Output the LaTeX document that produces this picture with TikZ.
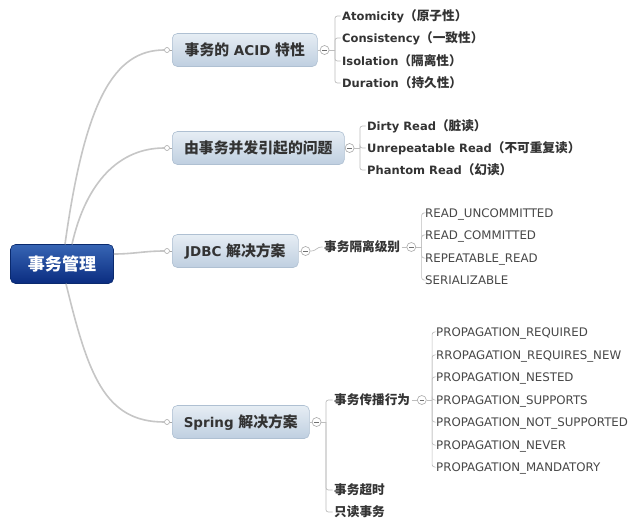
\documentclass[tikz,border=0pt]{standalone}
\usepackage{fontspec}
\setmainfont{DejaVu Sans}
\newfontfamily\cjk[Scale=1.1]{Noto Sans CJK SC}
\definecolor{txt}{HTML}{333333}
\definecolor{leafc}{HTML}{474747}
\definecolor{boxtop}{HTML}{E6EDF4}
\definecolor{boxbot}{HTML}{BFCFE0}
\definecolor{boxb}{HTML}{AFC0D2}
\definecolor{roottop}{HTML}{3765B4}
\definecolor{rootbot}{HTML}{0A2C80}
\definecolor{rootb}{HTML}{0A2A6E}
\definecolor{linec}{HTML}{C6C6C6}
\definecolor{brc}{HTML}{BDBDBD}
\definecolor{colb}{HTML}{A8A8A8}
\definecolor{colm}{HTML}{707070}
\tikzset{
  rootbox/.style={rounded corners=5pt, draw=rootb, line width=0.6pt, top color=roottop, bottom color=rootbot,
    minimum width=103pt, minimum height=39pt, text=white, font=\cjk\bfseries\fontsize{15.5}{18}\selectfont},
  branchbox/.style={rounded corners=5pt, draw=boxb, line width=0.6pt, top color=boxtop, bottom color=boxbot,
    minimum height=33pt, anchor=west, text=txt, font=\bfseries\fontsize{13.5}{16}\selectfont},
  leafb/.style={anchor=west, inner sep=1.5pt, text height=8.5pt, text depth=0pt, text=txt, font=\bfseries\fontsize{11.5}{13}\selectfont},
  leafr/.style={anchor=west, inner sep=1.5pt, text height=8.5pt, text depth=0pt, text=leafc, font=\fontsize{11.8}{13}\selectfont},
  collapse/.style={circle, draw=colb, fill=white, minimum size=9pt, inner sep=0pt, line width=0.6pt,
    path picture={\draw[line width=0.8pt, colm] ([xshift=-2.2pt]path picture bounding box.center) -- ([xshift=2.2pt]path picture bounding box.center);}},
  dot/.style={circle, draw=colb, fill=white, minimum size=5pt, inner sep=0pt, line width=0.6pt},
  trunk/.style={draw=linec, line width=1.6pt},
  bracket/.style={draw=brc, line width=0.7pt, rounded corners=2.5pt}
}
\begin{document}
\begin{tikzpicture}[x=1pt,y=-1pt]
\fill[white] (0,0) rectangle (640,528);
\useasboundingbox (0,0) rectangle (640,528);

% root and main branches
\node[rootbox] (root) at (62,264) {事务管理};
\node[branchbox, minimum width=145pt] (acid) at (172,50) {{\cjk 事务的} ACID {\cjk 特性}};
\node[branchbox, minimum width=172pt] (prob) at (172,148) {\cjk 由事务并发引起的问题};
\node[branchbox, minimum width=126pt] (jdbc) at (172,251) {JDBC {\cjk 解决方案}};
\node[branchbox, minimum width=137pt] (spring) at (172,422) {Spring {\cjk 解决方案}};

\node[dot] (d1) at ([xshift=-5pt]acid.west) {};
\node[dot] (d2) at ([xshift=-5pt]prob.west) {};
\node[dot] (d3) at ([xshift=-5pt]jdbc.west) {};
\node[dot] (d4) at ([xshift=-5pt]spring.west) {};
\draw[draw=colb, line width=0.6pt] (d1) -- (acid.west) (d2) -- (prob.west) (d3) -- (jdbc.west) (d4) -- (spring.west);

\draw[trunk] ([xshift=3pt]root.north) .. controls +(20,-144) and +(-50,0) .. (d1.west);
\draw[trunk] ([xshift=10pt]root.north) .. controls +(14,-62) and +(-45,0) .. (d2.west);
\draw[trunk] ([yshift=10pt]root.east) .. controls +(20,0) and +(-20,0) .. (d3.west);
\draw[trunk] ([xshift=4pt]root.south) .. controls +(22,90) and +(-60,0) .. (d4.west);

% ACID
\node[collapse] (c1) at ([xshift=7pt]acid.east) {};
\draw[bracket] (acid.east) -- (c1.west);
\coordinate (v1) at ([xshift=5.5pt]c1.east);
\node[leafb] (a1) at (340.5,16) {Atomicity{\cjk（原子性）}};
\node[leafb] (a2) at (340.5,38) {Consistency{\cjk（一致性）}};
\node[leafb] (a3) at (340.5,61) {Isolation{\cjk（隔离性）}};
\node[leafb] (a4) at (340.5,83) {Duration{\cjk（持久性）}};
\draw[bracket] (c1.east) -- (v1);
\foreach \n in {a1,a2,a3,a4} \draw[bracket] (v1) |- (\n.west);

% problems
\node[collapse] (c2) at ([xshift=5pt]prob.east) {};
\draw[bracket] (prob.east) -- (c2.west);
\coordinate (v2) at ([xshift=5.5pt]c2.east);
\node[leafb] (b1) at (365.5,126) {Dirty Read{\cjk（脏读）}};
\node[leafb] (b2) at (365.5,148) {Unrepeatable Read{\cjk（不可重复读）}};
\node[leafb] (b3) at (365.5,170) {Phantom Read{\cjk（幻读）}};
\draw[bracket] (c2.east) -- (v2);
\foreach \n in {b1,b2,b3} \draw[bracket] (v2) |- (\n.west);

% JDBC
\node[collapse] (c3) at ([xshift=7pt]jdbc.east) {};
\draw[bracket] (jdbc.east) -- (c3.west);
\node[leafb] (iso) at (322.5,247) {\cjk 事务隔离级别};
\draw[bracket] (c3.east) .. controls +(7,0) and +(-7,0) .. (iso.west);
\node[collapse] (c4) at ([xshift=9.5pt]iso.east) {};
\draw[bracket] (iso.east) -- (c4.west);
\coordinate (v4) at ([xshift=5.5pt]c4.east);
\node[leafr] (i1) at (423.5,213) {READ\_UNCOMMITTED};
\node[leafr] (i2) at (423.5,235) {READ\_COMMITTED};
\node[leafr] (i3) at (423.5,258) {REPEATABLE\_READ};
\node[leafr] (i4) at (423.5,280) {SERIALIZABLE};
\draw[bracket] (c4.east) -- (v4);
\foreach \n in {i1,i2,i3,i4} \draw[bracket] (v4) |- (\n.west);

% Spring
\node[collapse] (c5) at ([xshift=7pt]spring.east) {};
\draw[bracket] (spring.east) -- (c5.west);
\coordinate (v5) at ([xshift=4.5pt]c5.east);
\node[leafb] (s1) at (332.5,400) {\cjk 事务传播行为};
\node[leafb] (s2) at (332.5,490) {\cjk 事务超时};
\node[leafb] (s3) at (332.5,512) {\cjk 只读事务};
\draw[bracket] (c5.east) -- (v5);
\foreach \n in {s1,s2,s3} \draw[bracket] (v5) |- (\n.west);

\node[collapse] (c6) at ([xshift=10pt]s1.east) {};
\draw[bracket] (s1.east) -- (c6.west);
\coordinate (v6) at ([xshift=5.5pt]c6.east);
\node[leafr] (p1) at (434.5,332) {PROPAGATION\_REQUIRED};
\node[leafr] (p2) at (434.5,355) {RROPAGATION\_REQUIRES\_NEW};
\node[leafr] (p3) at (434.5,377) {PROPAGATION\_NESTED};
\node[leafr] (p4) at (434.5,400) {PROPAGATION\_SUPPORTS};
\node[leafr] (p5) at (434.5,422) {PROPAGATION\_NOT\_SUPPORTED};
\node[leafr] (p6) at (434.5,445) {PROPAGATION\_NEVER};
\node[leafr] (p7) at (434.5,467) {PROPAGATION\_MANDATORY};
\draw[bracket] (c6.east) -- (v6);
\foreach \n in {p1,p2,p3,p4,p5,p6,p7} \draw[bracket] (v6) |- (\n.west);
\end{tikzpicture}
\end{document}
